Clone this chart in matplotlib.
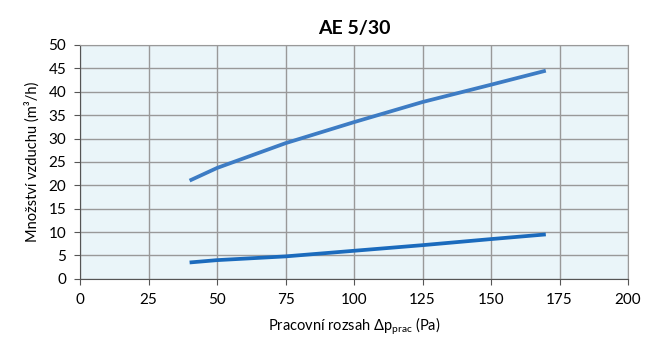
import matplotlib.pyplot as plt

# data
tlak = [40, 50, 75, 100, 125, 150, 170]
horni = [21, 23.7, 29, 33.5, 37.8, 41.5, 44.5]
dolni = [3.5, 4, 4.8, 6, 7.2, 8.5, 9.5]
xticks = [0, 25, 50, 75, 100, 125, 150, 175, 200]
yticks = [0, 5, 10, 15, 20, 25, 30, 35, 40, 45, 50]

plt.rcParams['font.family'] = ['Lato', 'DejaVu Sans']
plt.rcParams['mathtext.fontset'] = 'custom'
plt.rcParams['mathtext.rm'] = 'Lato'

fig = plt.figure(figsize=(6.52, 3.38), dpi=100)
ax = fig.add_axes([0.1227, 0.175, 0.8405, 0.692])
ax.set_facecolor('#eaf5f9')

ax.plot(tlak, horni, color='#3d7cc4', lw=2.7, solid_capstyle='butt')
ax.plot(tlak, dolni, color='#1b6bbd', lw=2.7, solid_capstyle='butt')

ax.set_xlim(0, 200)
ax.set_ylim(0, 50)
ax.set_xticks(xticks)
ax.set_yticks(yticks)
ax.grid(True, color='#999999', lw=1)
ax.set_axisbelow(True)
for s in ax.spines.values():
    s.set_color('#999999')
ax.spines['left'].set_color('#555555')
ax.spines['bottom'].set_color('#555555')
ax.tick_params(labelsize=11, length=4, color='#555555', pad=6)

ax.set_title('AE 5/30', fontsize=14, fontweight='bold', pad=8)
ax.set_xlabel('Pracovní rozsah Δp$_{\\mathregular{prac}}$ (Pa)', fontsize=10.5, labelpad=6)
ax.set_ylabel('Množství vzduchu (m³/h)', fontsize=10.5, labelpad=6)

fig.savefig('out.png', dpi=100)
